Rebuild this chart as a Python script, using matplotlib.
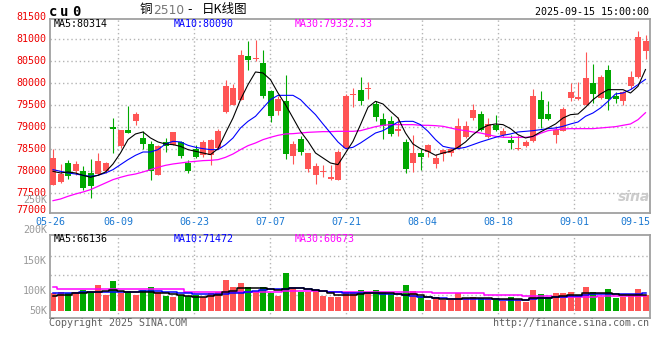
import matplotlib
matplotlib.use("Agg")
import matplotlib.pyplot as plt
import numpy as np

plt.rcParams['font.family'] = ['DejaVu Sans Mono', 'Noto Sans CJK SC']

# ---- data (80 trading days, 05-26 .. 09-15) ----
opens = [77697, 77758, 78189, 78000, 78000, 77962, 77939, 78000, 79000, 78568,
         78939, 79152, 78758, 78621, 77924, 78659, 78606, 78659, 78189, 78508,
         78364, 78364, 78530, 79341, 79500, 79629, 80614, 80561, 80462, 79818,
         79379, 79591, 78356, 78735, 78053, 77924, 77985, 77833, 77811, 78530,
         79727, 79856, 79879, 79530, 79189, 79136, 78924, 78667, 78189, 78417,
         78439, 78174, 78394, 78417, 78530, 78780, 79212, 79303, 78780, 79061,
         78826, 78720, 78500, 78568, 78697, 79629, 79303, 78826, 78924, 79667,
         79652, 79500, 80008, 79667, 80311, 79705, 79591, 79932, 80144, 80742]
highs = [78507, 78167, 78265, 78227, 78114, 78288, 78417, 78205, 79212, 78947,
         79492, 79348, 78909, 78682, 78606, 78758, 78894, 78697, 78265, 78606,
         78705, 78742, 78962, 80083, 79985, 80765, 80970, 80992, 80750, 79856,
         79705, 80182, 78697, 78795, 78417, 78189, 78152, 78136, 78492, 79758,
         79894, 80144, 80023, 79591, 79326, 79250, 79227, 78742, 78833, 78508,
         78621, 78394, 78515, 78530, 79212, 79136, 79530, 79364, 79212, 79288,
         78985, 78818, 78826, 78720, 79871, 79833, 79591, 79023, 79455, 80008,
         80023, 80712, 80439, 80197, 80424, 79803, 79833, 80288, 81197, 81106]
lows = [77690, 77740, 77833, 77909, 77583, 77394, 77924, 77962, 78417, 78530,
        78871, 79045, 78515, 77811, 77924, 78432, 78590, 78303, 77955, 78303,
        78326, 78152, 78515, 79326, 79500, 79629, 80311, 80515, 79667, 79121,
        79288, 78288, 78167, 78379, 77985, 77720, 77864, 77795, 77811, 78500,
        79470, 79500, 79644, 79152, 78735, 78795, 78795, 77962, 77985, 78038,
        78318, 78076, 78227, 78341, 78515, 78765, 79174, 78909, 78750, 78909,
        78780, 78515, 78485, 78553, 78667, 78985, 79174, 78644, 78909, 79591,
        79629, 79500, 79553, 79652, 79402, 79553, 79500, 79879, 80121, 80553]
closes = [78309, 77947, 77886, 78167, 77621, 77659, 78227, 78189, 78955, 78947,
          78871, 79303, 78621, 78015, 78568, 78568, 78894, 78341, 78015, 78318,
          78667, 78720, 78924, 79932, 79894, 80652, 80538, 80583, 79720, 79265,
          79652, 78394, 78621, 78439, 78417, 78129, 78008, 77864, 78439, 79720,
          79750, 79591, 79894, 79235, 79023, 78848, 78962, 78061, 78417, 78326,
          78606, 78303, 78492, 78508, 79038, 79038, 79402, 78947, 79076, 78947,
          78909, 78644, 78515, 78667, 79705, 79197, 79197, 78947, 79424, 79803,
          79682, 80121, 79765, 80136, 79644, 79644, 79803, 80144, 81053, 80955]

ma5 = [78000, 77962, 77985, 77962, 77909, 77864, 77909, 77985, 78167, 78417,
       78720, 78849, 78894, 78758, 78667, 78621, 78606, 78568, 78493, 78455,
       78417, 78379, 78515, 78871, 79212, 79629, 79970, 80258, 80235, 80083,
       79780, 79515, 79212, 78909, 78682, 78417, 78303, 78189, 78152, 78417,
       78682, 79061, 79455, 79591, 79530, 79364, 79212, 78871, 78621, 78515,
       78455, 78364, 78417, 78455, 78546, 78667, 78833, 78962, 79046, 79076,
       79061, 78970, 78833, 78758, 78795, 78894, 78985, 79076, 79212, 79288,
       79303, 79455, 79629, 79758, 79856, 79856, 79856, 79780, 79932, 80314]
ma10 = [78038, 78000, 77962, 77939, 77909, 77886, 77909, 77962, 78038, 78152,
        78265, 78364, 78439, 78439, 78493, 78621, 78682, 78667, 78591, 78546,
        78515, 78493, 78493, 78606, 78758, 78985, 79136, 79250, 79440, 79629,
        79727, 79727, 79727, 79629, 79455, 79288, 79076, 78871, 78667, 78515,
        78546, 78644, 78758, 78871, 78924, 79023, 79121, 79136, 79136, 79061,
        78909, 78720, 78568, 78530, 78515, 78546, 78606, 78667, 78720, 78773,
        78818, 78849, 78894, 78909, 78924, 78947, 78970, 78985, 79023, 79076,
        79121, 79250, 79326, 79440, 79591, 79758, 79780, 79856, 79970, 80090]
ma30 = [77333, 77371, 77432, 77485, 77530, 77583, 77659, 77735, 77811, 77864,
        77909, 77939, 77985, 78038, 78091, 78136, 78167, 78189, 78212, 78227,
        78243, 78250, 78265, 78318, 78394, 78493, 78583, 78644, 78720, 78773,
        78818, 78849, 78856, 78871, 78886, 78894, 78902, 78902, 78909, 78909,
        78909, 78924, 78970, 79015, 79046, 79061, 79061, 79061, 79061, 79046,
        79046, 79038, 79023, 78985, 78947, 78924, 78894, 78871, 78833, 78795,
        78773, 78773, 78773, 78773, 78788, 78864, 78924, 78947, 78962, 78970,
        78970, 78970, 78970, 78985, 79000, 79015, 79046, 79076, 79174, 79332.33]

volume = [71300, 78200, 74100, 78200, 85100, 78200, 105600, 64500, 122100, 74100,
          80900, 64500, 85100, 97400, 78200, 60400, 57600, 64500, 60400, 64500,
          54900, 71300, 78200, 126200, 98800, 112500, 96000, 78200, 96000, 74100,
          61700, 156400, 91900, 78200, 78200, 85100, 61700, 57600, 57600, 75500,
          75500, 85100, 78200, 85100, 78200, 68600, 57600, 105600, 80900, 61700,
          43900, 57600, 43900, 43900, 71300, 50800, 54900, 50800, 48000, 50800,
          41200, 57600, 43900, 37000, 85100, 68600, 57600, 74100, 71300, 78200,
          64500, 97400, 78200, 57600, 89200, 53500, 57600, 64500, 89200, 64500]
vol_ma5 = [60400, 64500, 64500, 71300, 71300, 78200, 78200, 82300, 85100, 82300,
           78200, 78200, 78200, 78200, 74100, 71300, 68600, 64500, 60400, 57600,
           57600, 60400, 64500, 75500, 82300, 91900, 94700, 94700, 91900, 87800,
           85100, 87800, 91900, 94700, 89200, 85100, 80900, 71300, 64500, 64500,
           64500, 68600, 71300, 71300, 71300, 71300, 67200, 64500, 67200, 64500,
           57600, 50800, 48000, 48000, 48000, 50800, 50800, 50800, 50800, 48000,
           46600, 48000, 46600, 43900, 50800, 50800, 53500, 57600, 60400, 64500,
           64500, 71300, 74100, 71300, 74100, 68600, 64500, 64500, 63100, 66136]
vol_ma10 = [74100, 74100, 74100, 74100, 75500, 75500, 76800, 76800, 76800, 78200,
            78200, 78200, 79600, 80900, 80900, 78200, 75500, 74100, 71300, 68600,
            68600, 68600, 67200, 68600, 71300, 71300, 78200, 80900, 85100, 87800,
            87800, 90600, 91900, 91900, 89200, 85100, 80900, 78200, 75500, 74100,
            71300, 71300, 71300, 71300, 68600, 68600, 67200, 64500, 61700, 57600,
            54900, 53500, 50800, 49400, 48000, 48000, 48000, 48000, 48000, 46600,
            43900, 43900, 43900, 43900, 48000, 50800, 53500, 54900, 57600, 60400,
            61700, 64500, 67200, 67200, 67200, 67200, 68600, 67200, 67200, 71472]
vol_ma30 = [96000, 90600, 89200, 89200, 89200, 89200, 87800, 87800, 87800, 87800,
            87800, 87800, 87800, 87800, 87800, 87800, 87800, 87800, 78200, 78200,
            78200, 78200, 78200, 75500, 75500, 75500, 75500, 75500, 75500, 75500,
            75500, 79600, 79600, 79600, 79600, 79600, 79600, 78200, 78200, 78200,
            78200, 78200, 78200, 78200, 78200, 75500, 75500, 75500, 75500, 75500,
            75500, 71300, 71300, 71300, 71300, 71300, 71300, 71300, 64500, 64500,
            64500, 64500, 64500, 61700, 61700, 61700, 61700, 57600, 57600, 57600,
            57600, 57600, 57600, 60400, 60400, 60400, 60400, 60400, 60400, 60673]

price_labels = [81500, 81000, 80500, 80000, 79500, 79000, 78500, 78000, 77500, 77000]
vol_labels = ["250K", "200K", "150K", "100K", "50K"]
date_labels = ["05-26", "06-09", "06-23", "07-07", "07-21", "08-04", "08-18", "09-01", "09-15"]

RED = "#ff5555"
GREEN = "#00a800"
GRID = "#b4b4b4"
FRAME = "#a0a0a0"
W, H = 660, 360
FS = 7.2


def fx(x):
    return x / W


def fy(y):
    return 1 - y / H


fig = plt.figure(figsize=(6.6, 3.6), dpi=100)
fig.patch.set_facecolor("white")

ax = fig.add_axes([fx(50), fy(212.5), 600 / W, (212.5 - 19) / H])
axv = fig.add_axes([fx(50), fy(318), 600 / W, (318 - 234.7) / H])

n = len(closes)
xs = np.arange(n) + 0.4
o = np.array(opens)
c = np.array(closes)
colors = [RED if c[i] >= o[i] else GREEN for i in range(n)]

# vertical grid lines sit every 76 px from the 06-09 line
grid_x = [(118.3 + 76 * k - 50) / 7.5 for k in range(7)]

for a in (ax, axv):
    a.set_xlim(0, n)
    a.set_xticks([])
    a.set_yticks([])
    for s in a.spines.values():
        s.set_color(FRAME)
        s.set_linewidth(1.3)
    for gx in grid_x:
        a.axvline(gx, color=GRID, lw=1, ls=(0, (1, 2)), zorder=0)

# price panel
ax.set_ylim(77064, 81462)
for p in price_labels[1:-1]:
    ax.axhline(p, color=GRID, lw=1, ls=(0, (1, 2)), zorder=0)

ax.vlines(xs, lows, highs, colors=colors, lw=0.8, zorder=2)
body = np.maximum(np.abs(c - o), 23)
ax.bar(xs, body, bottom=np.minimum(o, c), width=0.8, color=colors, lw=0, zorder=3)

ax.plot(xs, ma30, color="#ff00ff", lw=0.9, zorder=4)
ax.plot(xs, ma10, color="#0000ff", lw=0.8, zorder=4)
ax.plot(xs, ma5, color="black", lw=0.8, zorder=4)

for p in price_labels:
    ax.text(-0.006, max(p, 77120), str(p), transform=ax.get_yaxis_transform(),
            ha="right", va="center", color="#ee0000", fontsize=FS)

# MA legends (pixel rows of the reference)
fig.text(fx(54), fy(24), f"MA5:{ma5[-1]:.0f}", va="center", fontsize=FS, color="black")
fig.text(fx(174), fy(24), f"MA10:{ma10[-1]:.0f}", va="center", fontsize=FS, color="#0000ff")
fig.text(fx(295), fy(24), f"MA30:{ma30[-1]:.2f}", va="center", fontsize=FS, color="#ff00ff")

# volume panel
axv.set_ylim(-30000, 312800)
for v in (226400, 145700, 64600):
    axv.axhline(v, color=GRID, lw=1, ls=(0, (1, 2)), zorder=0)
axv.bar(xs, volume, width=0.8, color=colors, lw=0, zorder=2)
axv.plot(xs, vol_ma30, color="#ff00ff", lw=1.1, drawstyle="steps-mid", zorder=3)
axv.plot(xs, vol_ma10, color="#0000ff", lw=1.1, drawstyle="steps-mid", zorder=3)
axv.plot(xs, vol_ma5, color="black", lw=1.1, drawstyle="steps-mid", zorder=3)

fig.text(fx(54), fy(238.8), f"MA5:{vol_ma5[-1]:.0f}", va="center", fontsize=FS, color="black")
fig.text(fx(174), fy(238.8), f"MA10:{vol_ma10[-1]:.0f}", va="center", fontsize=FS, color="#0000ff")
fig.text(fx(295), fy(238.8), f"MA30:{vol_ma30[-1]:.0f}", va="center", fontsize=FS, color="#ff00ff")

for lab, y in zip(vol_labels, (200, 230, 260.7, 290.7, 310.7)):
    fig.text(fx(47), fy(y), lab, ha="right", va="center", color="#999999", fontsize=FS)

# date labels
date_x = [50] + [118.3 + 76 * k for k in range(7)]
for lab, x in zip(date_labels[:-1], date_x):
    fig.text(fx(x), fy(222), lab, ha="center", va="center", color="#1a78d2", fontsize=FS)
fig.text(fx(650), fy(222), date_labels[-1], ha="right", va="center", color="#1a78d2", fontsize=FS)

# header
for ch, x in zip("cu0", (53, 64.5, 76.5)):
    fig.text(fx(x), fy(11.5), ch, ha="center", va="center", fontsize=10, fontweight="bold")
fig.text(fx(140), fy(10), "铜", ha="left", va="center", fontsize=9, family=["Noto Sans CJK SC"])
fig.text(fx(153), fy(10.5), "2510", ha="left", va="center", fontsize=8.8, color="#777777",
         family=["DejaVu Sans"])
fig.text(fx(190), fy(10), "-", ha="center", va="center", fontsize=9, family=["DejaVu Sans"])
fig.text(fx(202), fy(10), "日K线图", ha="left", va="center", fontsize=9, family=["Noto Sans CJK SC"])
fig.text(fx(649), fy(12), "2025-09-15 15:00:00", ha="right", va="center", fontsize=FS)

# footer
fig.text(fx(49), fy(323.5), "Copyright 2025 SINA.COM", ha="left", va="center", fontsize=FS, color="#606060")
fig.text(fx(649), fy(323.5), "http://finance.sina.com.cn", ha="right", va="center", fontsize=FS, color="#606060")

# watermark
fig.text(fx(634), fy(197), "sina", ha="center", va="center", fontsize=10, color="#cccccc",
         fontweight="bold", style="italic", family=["DejaVu Sans"])

fig.savefig("out.png", dpi=100, facecolor="white")
